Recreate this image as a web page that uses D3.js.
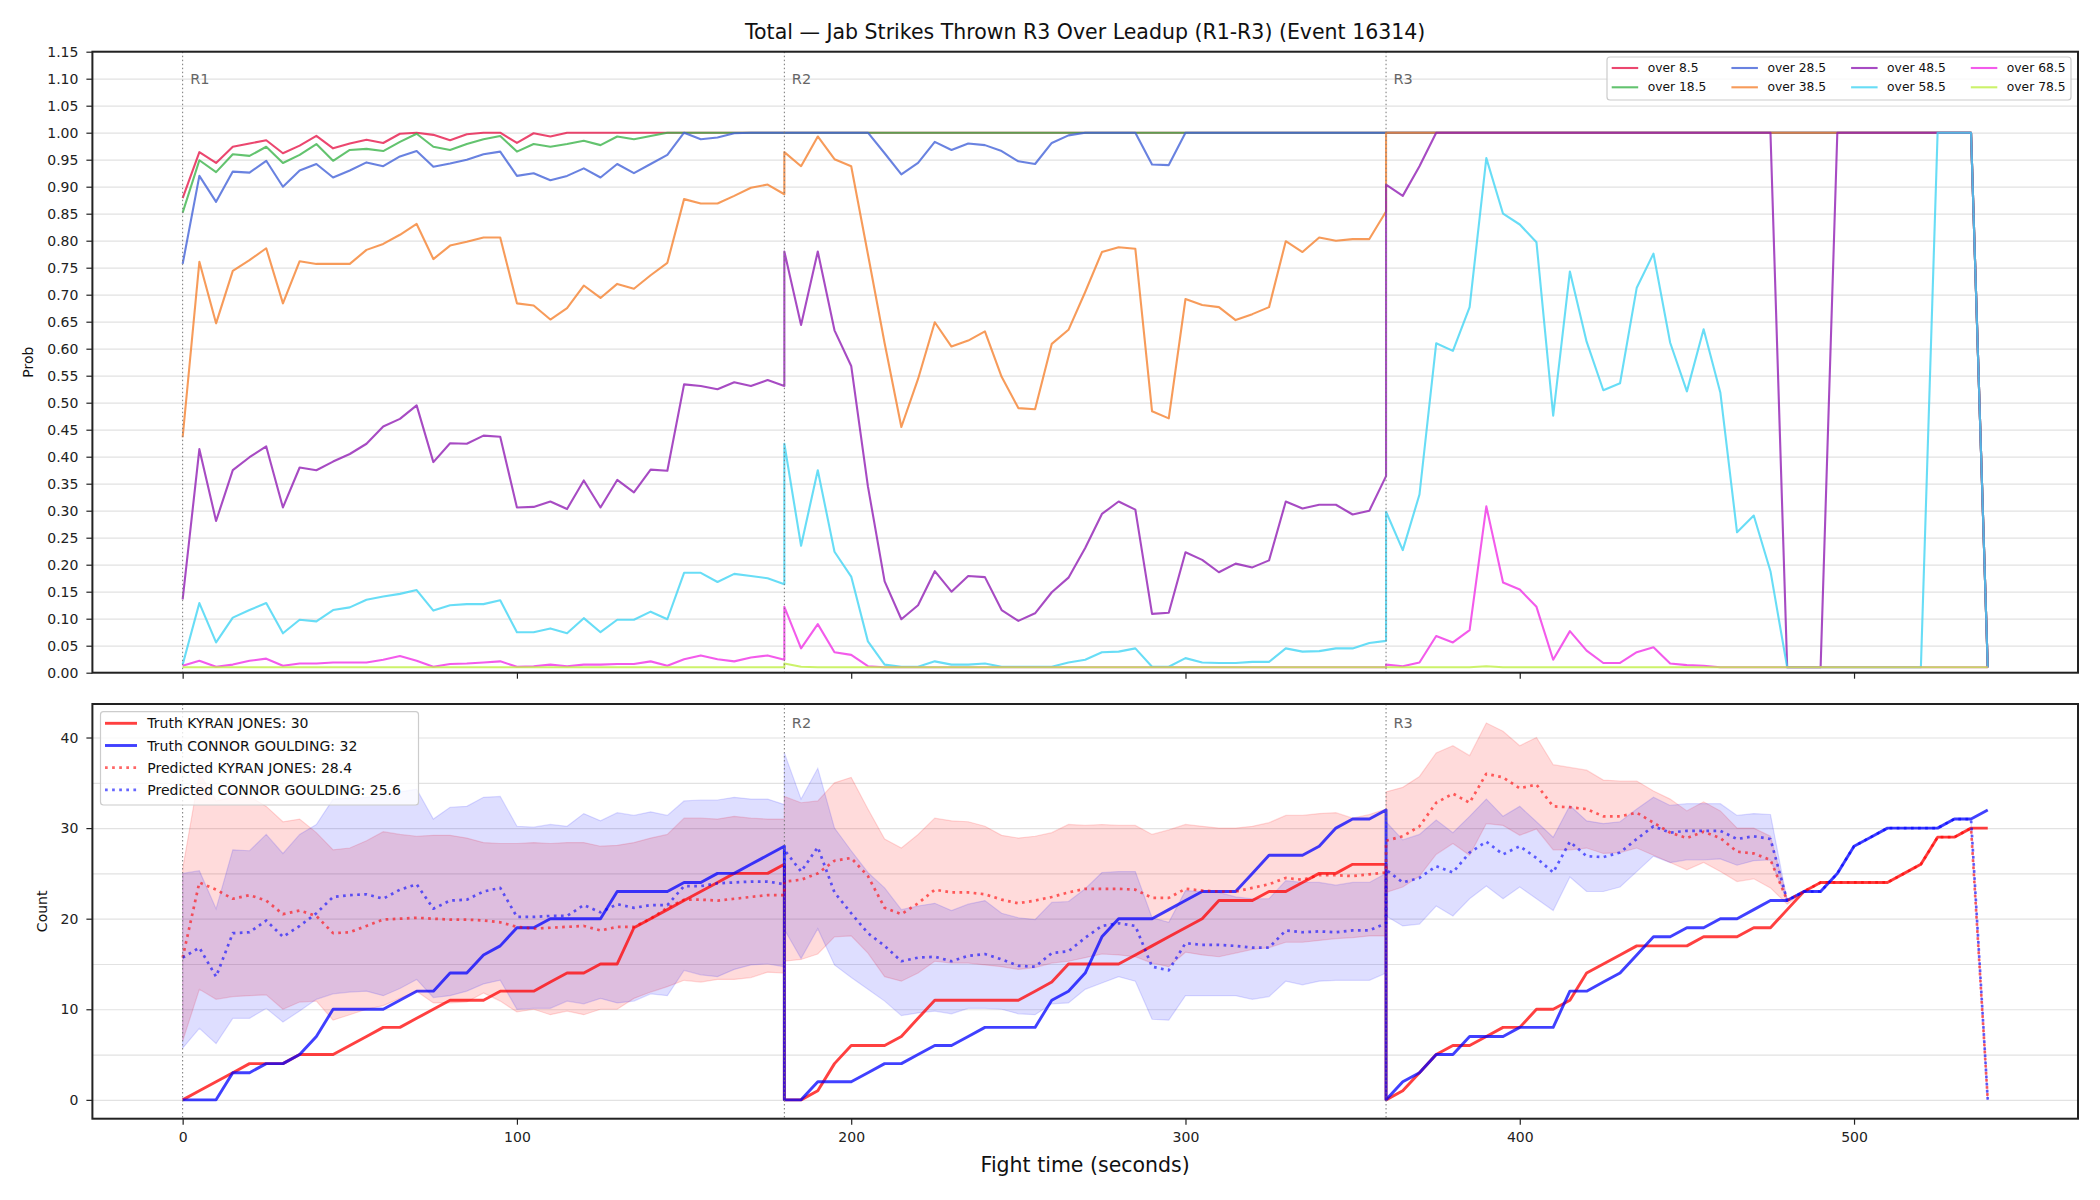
<!DOCTYPE html>
<html>
<head>
<meta charset="utf-8">
<script src="https://cdn.jsdelivr.net/npm/d3@7"></script>
<style>
  body { margin: 0; background: #fff; }
  svg { display: block; font-family: "DejaVu Sans", sans-serif; }
</style>
</head>
<body>
<svg id="chart"></svg>
<script>
// ---- time grid: each round is sampled every 5 s, rounds restart at 180 s ----
const roundNames = ["R1", "R2", "R3"];
const roundStarts = [0, 180, 360];
const stepOffsets = [0, 5, 10, 15, 20, 25, 30, 35, 40, 45, 50, 55, 60, 65, 70, 75, 80, 85, 90,
  95, 100, 105, 110, 115, 120, 125, 130, 135, 140, 145, 150, 155, 160, 165, 170, 175, 180];

// ---- top panel: P(total > line), one value per sample (R1 | R2 | R3) ----
const over8_5 = [
  0.879, 0.964, 0.944, 0.974, 0.980, 0.986, 0.962, 0.976, 0.994, 0.971, 0.980, 0.987, 0.981, 0.998, 1.0, 0.996, 0.986, 0.997, 1.0, 1.0, 0.981, 0.999, 0.993, 1.0, 1.0, 1.0, 1.0, 1.0, 1.0, 1.0, 1.0, 1.0, 1.0, 1.0, 1.0, 1.0, 1.0,
  1.0, 1.0, 1.0, 1.0, 1.0, 1.0, 1.0, 1.0, 1.0, 1.0, 1.0, 1.0, 1.0, 1.0, 1.0, 1.0, 1.0, 1.0, 1.0, 1.0, 1.0, 1.0, 1.0, 1.0, 1.0, 1.0, 1.0, 1.0, 1.0, 1.0, 1.0, 1.0, 1.0, 1.0, 1.0, 1.0, 1.0,
  1.0, 1.0, 1.0, 1.0, 1.0, 1.0, 1.0, 1.0, 1.0, 1.0, 1.0, 1.0, 1.0, 1.0, 1.0, 1.0, 1.0, 1.0, 1.0, 1.0, 1.0, 1.0, 1.0, 1.0, 1.0, 1.0, 1.0, 1.0, 1.0, 1.0, 1.0, 1.0, 1.0, 1.0, 1.0, 1.0, 0.01
];
const over18_5 = [
  0.852, 0.949, 0.927, 0.960, 0.957, 0.974, 0.944, 0.959, 0.979, 0.948, 0.968, 0.970, 0.966, 0.983, 0.998, 0.974, 0.968, 0.979, 0.988, 0.994, 0.965, 0.979, 0.974, 0.979, 0.985, 0.977, 0.993, 0.988, 0.994, 1.0, 1.0, 1.0, 1.0, 1.0, 1.0, 1.0, 1.0,
  1.0, 1.0, 1.0, 1.0, 1.0, 1.0, 1.0, 1.0, 1.0, 1.0, 1.0, 1.0, 1.0, 1.0, 1.0, 1.0, 1.0, 1.0, 1.0, 1.0, 1.0, 1.0, 1.0, 1.0, 1.0, 1.0, 1.0, 1.0, 1.0, 1.0, 1.0, 1.0, 1.0, 1.0, 1.0, 1.0, 1.0,
  1.0, 1.0, 1.0, 1.0, 1.0, 1.0, 1.0, 1.0, 1.0, 1.0, 1.0, 1.0, 1.0, 1.0, 1.0, 1.0, 1.0, 1.0, 1.0, 1.0, 1.0, 1.0, 1.0, 1.0, 1.0, 1.0, 1.0, 1.0, 1.0, 1.0, 1.0, 1.0, 1.0, 1.0, 1.0, 1.0, 0.01
];
const over28_5 = [
  0.757, 0.920, 0.872, 0.928, 0.926, 0.948, 0.900, 0.930, 0.942, 0.917, 0.930, 0.945, 0.938, 0.956, 0.966, 0.937, 0.943, 0.950, 0.960, 0.965, 0.920, 0.925, 0.912, 0.920, 0.934, 0.917, 0.942, 0.925, 0.942, 0.959, 1.0, 0.988, 0.991, 0.999, 1.0, 1.0, 1.0,
  1.0, 1.0, 1.0, 1.0, 1.0, 1.0, 0.962, 0.923, 0.944, 0.983, 0.968, 0.980, 0.977, 0.966, 0.947, 0.942, 0.981, 0.995, 1.0, 1.0, 1.0, 1.0, 0.941, 0.940, 1.0, 1.0, 1.0, 1.0, 1.0, 1.0, 1.0, 1.0, 1.0, 1.0, 1.0, 1.0, 1.0,
  1.0, 1.0, 1.0, 1.0, 1.0, 1.0, 1.0, 1.0, 1.0, 1.0, 1.0, 1.0, 1.0, 1.0, 1.0, 1.0, 1.0, 1.0, 1.0, 1.0, 1.0, 1.0, 1.0, 1.0, 1.0, 1.0, 1.0, 1.0, 1.0, 1.0, 1.0, 1.0, 1.0, 1.0, 1.0, 1.0, 0.01
];
const over38_5 = [
  0.436, 0.761, 0.647, 0.744, 0.764, 0.786, 0.684, 0.762, 0.757, 0.757, 0.757, 0.783, 0.794, 0.811, 0.831, 0.766, 0.791, 0.798, 0.806, 0.806, 0.684, 0.680, 0.654, 0.675, 0.717, 0.694, 0.720, 0.711, 0.736, 0.759, 0.877, 0.869, 0.869, 0.883, 0.898, 0.904, 0.886,
  0.964, 0.938, 0.993, 0.951, 0.938, 0.775, 0.610, 0.455, 0.544, 0.649, 0.604, 0.615, 0.632, 0.548, 0.490, 0.488, 0.609, 0.635, 0.705, 0.779, 0.788, 0.785, 0.484, 0.471, 0.692, 0.681, 0.677, 0.653, 0.664, 0.677, 0.799, 0.779, 0.806, 0.800, 0.803, 0.803, 0.854,
  1.0, 1.0, 1.0, 1.0, 1.0, 1.0, 1.0, 1.0, 1.0, 1.0, 1.0, 1.0, 1.0, 1.0, 1.0, 1.0, 1.0, 1.0, 1.0, 1.0, 1.0, 1.0, 1.0, 1.0, 1.0, 1.0, 1.0, 1.0, 1.0, 1.0, 1.0, 1.0, 1.0, 1.0, 1.0, 1.0, 0.01
];
const over48_5 = [
  0.136, 0.414, 0.281, 0.375, 0.399, 0.419, 0.306, 0.380, 0.375, 0.391, 0.405, 0.424, 0.456, 0.470, 0.495, 0.390, 0.425, 0.424, 0.439, 0.437, 0.306, 0.307, 0.317, 0.303, 0.356, 0.306, 0.357, 0.334, 0.376, 0.374, 0.534, 0.531, 0.525, 0.538, 0.531, 0.542, 0.531,
  0.780, 0.644, 0.780, 0.634, 0.568, 0.345, 0.169, 0.099, 0.125, 0.188, 0.150, 0.179, 0.177, 0.116, 0.096, 0.110, 0.149, 0.176, 0.231, 0.294, 0.317, 0.302, 0.109, 0.111, 0.223, 0.209, 0.186, 0.202, 0.195, 0.208, 0.317, 0.304, 0.311, 0.311, 0.293, 0.300, 0.364,
  0.904, 0.883, 0.938, 1.0, 1.0, 1.0, 1.0, 1.0, 1.0, 1.0, 1.0, 1.0, 1.0, 1.0, 1.0, 1.0, 1.0, 1.0, 1.0, 1.0, 1.0, 1.0, 1.0, 1.0, 0.01, 0.01, 0.01, 1.0, 1.0, 1.0, 1.0, 1.0, 1.0, 1.0, 1.0, 1.0, 0.01
];
const over58_5 = [
  0.015, 0.129, 0.056, 0.102, 0.116, 0.129, 0.073, 0.098, 0.095, 0.116, 0.121, 0.135, 0.141, 0.146, 0.153, 0.115, 0.125, 0.127, 0.127, 0.134, 0.075, 0.075, 0.082, 0.073, 0.101, 0.075, 0.098, 0.098, 0.113, 0.099, 0.185, 0.185, 0.168, 0.183, 0.179, 0.175, 0.164,
  0.424, 0.235, 0.375, 0.224, 0.178, 0.058, 0.015, 0.011, 0.011, 0.021, 0.015, 0.015, 0.017, 0.011, 0.011, 0.011, 0.011, 0.019, 0.024, 0.038, 0.039, 0.045, 0.011, 0.011, 0.027, 0.019, 0.018, 0.018, 0.020, 0.020, 0.045, 0.039, 0.040, 0.045, 0.045, 0.055, 0.059,
  0.298, 0.227, 0.330, 0.610, 0.596, 0.677, 0.953, 0.850, 0.830, 0.797, 0.476, 0.743, 0.613, 0.523, 0.536, 0.713, 0.776, 0.611, 0.521, 0.636, 0.519, 0.260, 0.291, 0.188, 0.01, 0.01, 0.01, 0.01, 0.01, 0.01, 0.01, 0.01, 0.01, 1.0, 1.0, 1.0, 0.01
];
const over68_5 = [
  0.013, 0.022, 0.011, 0.015, 0.022, 0.026, 0.013, 0.017, 0.017, 0.019, 0.019, 0.019, 0.024, 0.031, 0.022, 0.011, 0.016, 0.017, 0.019, 0.021, 0.011, 0.012, 0.015, 0.012, 0.015, 0.015, 0.016, 0.016, 0.021, 0.013, 0.025, 0.032, 0.025, 0.021, 0.028, 0.032, 0.024,
  0.122, 0.045, 0.090, 0.038, 0.033, 0.012, 0.01, 0.01, 0.01, 0.01, 0.01, 0.01, 0.01, 0.01, 0.01, 0.01, 0.01, 0.01, 0.01, 0.01, 0.01, 0.01, 0.01, 0.01, 0.01, 0.01, 0.01, 0.01, 0.01, 0.01, 0.01, 0.01, 0.01, 0.01, 0.01, 0.01, 0.01,
  0.015, 0.012, 0.019, 0.068, 0.056, 0.079, 0.308, 0.167, 0.154, 0.122, 0.024, 0.077, 0.041, 0.018, 0.018, 0.038, 0.047, 0.017, 0.014, 0.013, 0.01, 0.01, 0.01, 0.01, 0.01, 0.01, 0.01, 0.01, 0.01, 0.01, 0.01, 0.01, 0.01, 0.01, 0.01, 0.01, 0.01
];
const over78_5 = [
  0.01, 0.01, 0.01, 0.01, 0.01, 0.01, 0.01, 0.01, 0.01, 0.01, 0.01, 0.01, 0.01, 0.01, 0.01, 0.01, 0.01, 0.01, 0.01, 0.01, 0.01, 0.01, 0.01, 0.01, 0.01, 0.01, 0.01, 0.01, 0.01, 0.01, 0.01, 0.01, 0.01, 0.01, 0.01, 0.01, 0.01,
  0.017, 0.011, 0.01, 0.01, 0.01, 0.01, 0.01, 0.01, 0.01, 0.01, 0.01, 0.01, 0.01, 0.01, 0.01, 0.01, 0.01, 0.01, 0.01, 0.01, 0.01, 0.01, 0.01, 0.01, 0.01, 0.01, 0.01, 0.01, 0.01, 0.01, 0.01, 0.01, 0.01, 0.01, 0.01, 0.01, 0.01,
  0.01, 0.01, 0.01, 0.01, 0.01, 0.01, 0.012, 0.01, 0.01, 0.01, 0.01, 0.01, 0.01, 0.01, 0.01, 0.01, 0.01, 0.01, 0.01, 0.01, 0.01, 0.01, 0.01, 0.01, 0.01, 0.01, 0.01, 0.01, 0.01, 0.01, 0.01, 0.01, 0.01, 0.01, 0.01, 0.01, 0.01
];
const lineNames = ["over 8.5", "over 18.5", "over 28.5", "over 38.5", "over 48.5", "over 58.5", "over 68.5", "over 78.5"];
const lineColors = ["#e6194b", "#3cb44b", "#4363d8", "#f58231", "#911eb4", "#42d4f4", "#f032e6", "#bfef45"];

// ---- bottom panel: per-round jab counts ----
const truthJones = [
  0, 1, 2, 3, 4, 4, 4, 5, 5, 5, 6, 7, 8, 8, 9, 10, 11, 11, 11, 12, 12, 12, 13, 14, 14, 15, 15, 19, 20, 21, 22, 23, 24, 25, 25, 25, 26,
  0, 0, 1, 4, 6, 6, 6, 7, 9, 11, 11, 11, 11, 11, 11, 12, 13, 15, 15, 15, 15, 16, 17, 18, 19, 20, 22, 22, 22, 23, 23, 24, 25, 25, 26, 26, 26,
  0, 1, 3, 5, 6, 6, 7, 8, 8, 10, 10, 11, 14, 15, 16, 17, 17, 17, 17, 18, 18, 18, 19, 19, 21, 23, 24, 24, 24, 24, 24, 25, 26, 29, 29, 30, 30
];
const truthGoulding = [
  0, 0, 0, 3, 3, 4, 4, 5, 7, 10, 10, 10, 10, 11, 12, 12, 14, 14, 16, 17, 19, 19, 20, 20, 20, 20, 23, 23, 23, 23, 24, 24, 25, 25, 26, 27, 28,
  0, 0, 2, 2, 2, 3, 4, 4, 5, 6, 6, 7, 8, 8, 8, 8, 11, 12, 14, 18, 20, 20, 20, 21, 22, 23, 23, 23, 25, 27, 27, 27, 28, 30, 31, 31, 32,
  0, 2, 3, 5, 5, 7, 7, 7, 8, 8, 8, 12, 12, 13, 14, 16, 18, 18, 19, 19, 20, 20, 21, 22, 22, 23, 23, 25, 28, 29, 30, 30, 30, 30, 31, 31, 32
];
const predJones = [
  15.7, 24.0, 23.2, 22.2, 22.6, 22.0, 20.5, 20.9, 20.3, 18.4, 18.5, 19.2, 19.9, 20.0, 20.1, 20.0, 19.9, 19.9, 19.8, 19.6, 19.1, 18.9, 19.0, 19.1, 19.2, 18.7, 19.1, 19.1, 20.0, 21.2, 22.1, 22.1, 22.0, 22.2, 22.4, 22.6, 22.6,
  24.1, 24.3, 25.0, 26.4, 26.7, 24.7, 21.2, 20.5, 21.7, 23.2, 22.9, 22.9, 22.7, 22.1, 21.7, 22.0, 22.4, 22.9, 23.3, 23.3, 23.3, 23.2, 22.3, 22.3, 23.3, 23.1, 23.0, 23.0, 23.4, 23.8, 24.5, 24.3, 24.8, 24.8, 24.7, 24.9, 25.1,
  28.6, 29.1, 30.2, 32.8, 33.8, 32.8, 36.0, 35.6, 34.4, 34.8, 32.4, 32.3, 32.1, 31.3, 31.3, 31.7, 30.6, 29.5, 28.9, 29.6, 28.9, 27.4, 27.2, 26.5, 22.0, 23, 24, 24, 24, 24, 24, 25, 26, 29, 29, 30, 0
];
const predGoulding = [
  15.7, 16.8, 13.6, 18.4, 18.5, 19.8, 18.0, 19.2, 20.6, 22.4, 22.6, 22.7, 22.2, 23.2, 23.8, 21.1, 22.0, 22.1, 23.0, 23.4, 20.2, 20.2, 20.3, 20.3, 21.5, 20.7, 21.6, 21.2, 21.5, 21.5, 23.6, 23.6, 23.9, 24.0, 24.1, 24.1, 23.8,
  27.6, 25.2, 27.9, 22.9, 20.6, 18.4, 17.0, 15.3, 15.7, 15.8, 15.3, 15.9, 16.1, 15.5, 14.8, 14.7, 16.2, 16.4, 17.9, 19.2, 19.5, 19.2, 14.7, 14.3, 17.3, 17.1, 17.1, 17.0, 16.8, 16.8, 18.7, 18.5, 18.6, 18.5, 18.7, 18.7, 19.5,
  25.4, 24.0, 24.5, 25.8, 25.1, 27.3, 28.5, 27.1, 28.0, 26.7, 25.1, 28.5, 26.9, 26.8, 27.3, 28.8, 30.2, 29.5, 29.7, 29.7, 29.7, 28.8, 29.1, 28.8, 22.0, 23, 23, 25, 28, 29, 30, 30, 30, 30, 31, 31, 0
];
const jonesLow = [
  6.5, 12.2, 11.1, 11.4, 11.5, 11.6, 10.0, 10.8, 10.9, 8.8, 9.4, 10.0, 10.4, 11.2, 12.0, 10.7, 10.7, 10.8, 11.8, 10.9, 9.7, 10.0, 9.4, 9.8, 9.4, 10.0, 10.0, 11.2, 11.9, 12.5, 13.2, 13.0, 13.3, 13.3, 13.5, 14.1, 14.0,
  15.3, 15.5, 16.1, 18.0, 18.1, 16.2, 13.6, 13.1, 14.0, 15.3, 15.1, 15.1, 14.9, 14.7, 14.4, 14.6, 15.1, 15.3, 15.7, 16.1, 16.0, 15.8, 15.1, 14.7, 16.3, 16.0, 15.8, 16.2, 16.6, 16.8, 17.4, 17.4, 17.6, 17.8, 17.9, 18.1, 18.1,
  22.9, 23.5, 24.7, 27.1, 28.3, 27.0, 30.5, 30.3, 29.2, 29.9, 27.6, 27.6, 27.8, 27.2, 27.3, 27.8, 27.0, 26.2, 25.4, 26.2, 25.2, 24.1, 24.4, 23.4, 21.6, 23, 24, 24, 24, 24, 24, 25, 26, 29, 29, 30, 0
];
const jonesHigh = [
  25.5, 36.1, 33.0, 33.4, 33.5, 32.4, 30.7, 31.0, 29.5, 27.6, 27.8, 28.6, 29.6, 29.3, 29.1, 29.2, 29.2, 28.9, 28.4, 28.3, 28.3, 28.4, 28.3, 28.4, 28.4, 28.0, 28.1, 28.4, 28.9, 29.3, 31.1, 31.1, 31.0, 31.3, 31.1, 31.0, 31.0,
  33.5, 32.8, 33.0, 35.0, 35.6, 32.1, 28.8, 27.8, 29.3, 31.1, 30.8, 30.7, 30.2, 29.2, 28.9, 29.1, 29.5, 30.4, 30.3, 30.4, 30.3, 30.3, 29.3, 29.8, 30.4, 30.2, 30.0, 30.0, 30.2, 30.6, 31.4, 31.4, 31.6, 31.7, 31.1, 31.5, 32.1,
  34.0, 34.5, 35.7, 38.3, 39.1, 38.0, 41.6, 40.7, 39.1, 40.0, 37.0, 36.7, 36.4, 35.3, 35.2, 35.2, 34.1, 33.2, 31.9, 32.9, 31.9, 30.0, 30.0, 29.1, 22.2, 23, 24, 24, 24, 24, 24, 25, 26, 29, 29, 30, 0
];
const gouldingLow = [
  5.7, 7.9, 6.2, 9.0, 9.0, 10.1, 8.6, 9.8, 11.1, 11.7, 11.9, 12.0, 11.5, 12.3, 13.3, 11.3, 11.5, 12.0, 12.8, 13.2, 10.0, 10.1, 10.1, 10.9, 10.6, 11.2, 10.7, 10.9, 11.7, 11.5, 14.3, 13.8, 13.6, 14.4, 14.9, 15.0, 14.7,
  18.8, 15.6, 18.9, 14.9, 13.5, 12.2, 10.9, 9.3, 9.6, 9.8, 9.5, 10.1, 10.1, 10.0, 9.5, 9.4, 10.6, 10.7, 12.2, 12.9, 13.6, 13.1, 8.9, 8.8, 11.5, 11.5, 11.5, 11.5, 11.1, 11.4, 13.1, 12.7, 13.1, 13.2, 13.2, 13.2, 14.0,
  20.3, 19.2, 19.4, 21.4, 20.3, 22.2, 23.6, 22.2, 23.5, 22.2, 20.9, 24.6, 23.0, 23.0, 23.5, 25.2, 26.9, 26.2, 26.5, 26.5, 26.6, 25.9, 26.4, 26.5, 22.0, 23, 23, 25, 28, 29, 30, 30, 30, 30, 31, 31, 0
];
const gouldingHigh = [
  25.0, 25.3, 21.1, 27.6, 27.5, 29.3, 27.2, 29.3, 30.4, 33.2, 33.3, 33.4, 33.6, 34.0, 34.3, 31.0, 32.3, 32.4, 33.4, 33.5, 30.2, 30.1, 30.4, 30.2, 31.6, 30.8, 31.7, 31.4, 31.8, 31.4, 33.0, 33.1, 33.1, 33.4, 33.2, 33.2, 32.6,
  38.3, 33.2, 36.6, 30.0, 27.5, 25.1, 23.4, 21.0, 21.4, 21.7, 20.9, 21.6, 22.0, 20.6, 20.1, 19.9, 21.8, 21.9, 23.3, 25.1, 25.2, 25.2, 20.1, 19.6, 23.1, 23.0, 22.9, 22.4, 22.2, 22.2, 24.2, 24.0, 24.0, 23.7, 24.0, 24.0, 25.0,
  30.7, 28.7, 29.3, 30.9, 29.5, 31.3, 33.2, 31.3, 32.4, 30.7, 29.0, 32.5, 30.8, 30.5, 30.7, 32.1, 33.4, 32.5, 32.7, 32.7, 32.7, 31.4, 31.6, 31.5, 22.0, 23, 23, 25, 28, 29, 30, 30, 30, 30, 31, 31, 0
];

// ---- ticks and labels ----
const timeTicks = [0, 100, 200, 300, 400, 500];
const probTicks = [0, 0.05, 0.1, 0.15, 0.2, 0.25, 0.3, 0.35, 0.4, 0.45, 0.5, 0.55, 0.6, 0.65, 0.7, 0.75,
  0.8, 0.85, 0.9, 0.95, 1.0, 1.05, 1.1, 1.15];
const countTicks = [0, 10, 20, 30, 40];
const countGrid = [0, 5, 10, 15, 20, 25, 30, 35, 40];
const fighterLegend = ["Truth KYRAN JONES: 30", "Truth CONNOR GOULDING: 32",
  "Predicted KYRAN JONES: 28.4", "Predicted CONNOR GOULDING: 25.6"];

(() => {
  const width = 2100, height = 1200;
  const left = 92.4, right = 2078;
  const top1 = 51.7, bottom1 = 672.7;
  const top2 = 704, bottom2 = 1118.7;

  const svg = d3.select("#chart")
    .attr("width", width)
    .attr("height", height);

  svg.append("rect").attr("width", width).attr("height", height).attr("fill", "#fff");

  const times = roundStarts.flatMap(r => stepOffsets.map(s => r + s));

  const x = d3.scaleLinear().domain([-27, 567]).range([left, right]);
  const yProb = d3.scaleLinear().domain([0, 1.15]).range([bottom1, top1]);
  const yCount = d3.scaleLinear().domain([-2.08, 43.7]).range([bottom2, top2]);

  const jonesRed = "255,0,0", gouldingBlue = "0,0,255";

  // ---------- top panel ----------
  const g1 = svg.append("g");

  g1.append("g")
    .attr("transform", `translate(${left},0)`)
    .call(d3.axisLeft(yProb).tickValues(probTicks).tickSize(-(right - left)).tickFormat(""))
    .call(a => a.select(".domain").remove())
    .call(a => a.selectAll("line").attr("stroke", "#e2e2e2").attr("stroke-width", 1.2));

  const probLine = d3.line()
    .x((d, i) => x(times[i]))
    .y(d => yProb(d));

  const probData = [over8_5, over18_5, over28_5, over38_5, over48_5, over58_5, over68_5, over78_5];

  g1.selectAll("path.prob")
    .data(probData)
    .join("path")
    .attr("class", "prob")
    .attr("d", probLine)
    .attr("fill", "none")
    .attr("stroke", (d, i) => lineColors[i])
    .attr("stroke-opacity", 0.8)
    .attr("stroke-width", 2.1)
    .attr("stroke-linejoin", "round");

  // ---------- bottom panel ----------
  const g2 = svg.append("g");

  g2.append("g")
    .attr("transform", `translate(${left},0)`)
    .call(d3.axisLeft(yCount).tickValues(countGrid).tickSize(-(right - left)).tickFormat(""))
    .call(a => a.select(".domain").remove())
    .call(a => a.selectAll("line").attr("stroke", "#e2e2e2").attr("stroke-width", 1.2));

  const band = (lo, hi) => d3.area()
    .x((d, i) => x(times[i]))
    .y0((d, i) => yCount(lo[i]))
    .y1((d, i) => yCount(hi[i]));

  g2.append("path")
    .attr("d", band(jonesLow, jonesHigh)(jonesLow))
    .attr("fill", `rgba(${jonesRed},0.14)`)
    .attr("stroke", `rgba(${jonesRed},0.14)`)
    .attr("stroke-width", 1.2);

  g2.append("path")
    .attr("d", band(gouldingLow, gouldingHigh)(gouldingLow))
    .attr("fill", `rgba(${gouldingBlue},0.13)`)
    .attr("stroke", `rgba(${gouldingBlue},0.13)`)
    .attr("stroke-width", 1.2);

  const countLine = d3.line()
    .x((d, i) => x(times[i]))
    .y(d => yCount(d));

  const fighterLines = [
    { values: truthJones, color: `rgba(${jonesRed},0.75)`, dash: null, w: 2.9 },
    { values: truthGoulding, color: `rgba(${gouldingBlue},0.75)`, dash: null, w: 2.9 },
    { values: predJones, color: `rgba(${jonesRed},0.6)`, dash: "2.7,4.4", w: 2.7 },
    { values: predGoulding, color: `rgba(${gouldingBlue},0.6)`, dash: "2.7,4.4", w: 2.7 }
  ];

  g2.selectAll("path.count")
    .data(fighterLines)
    .join("path")
    .attr("class", "count")
    .attr("d", d => countLine(d.values))
    .attr("fill", "none")
    .attr("stroke", d => d.color)
    .attr("stroke-width", d => d.w)
    .attr("stroke-dasharray", d => d.dash)
    .attr("stroke-linejoin", "round");

  // ---------- round markers (R1 label of the lower panel sits under its legend) ----------
  [[g1, yProb, top1, bottom1, 1.10, [0, 1, 2]], [g2, yCount, top2, bottom2, 41.6, [1, 2]]]
    .forEach(([g, y, t, b, labelAt, shown]) => {
      g.selectAll("line.round")
        .data(roundStarts)
        .join("line")
        .attr("class", "round")
        .attr("x1", d => x(d)).attr("x2", d => x(d))
        .attr("y1", t).attr("y2", b)
        .attr("stroke", "#777")
        .attr("stroke-width", 1)
        .attr("stroke-dasharray", "1.5,2.5");

      g.selectAll("text.round")
        .data(shown)
        .join("text")
        .attr("class", "round")
        .attr("x", i => x(roundStarts[i]) + 7.5)
        .attr("y", y(labelAt))
        .attr("dominant-baseline", "central")
        .attr("font-size", 14.5)
        .attr("fill", "#666")
        .text(i => roundNames[i]);
    });

  // ---------- axes ----------
  const styleAxis = a => {
    a.select(".domain").remove();
    a.selectAll(".tick line").attr("stroke", "#222").attr("stroke-width", 1.2);
    a.selectAll(".tick text").attr("font-size", 14).attr("fill", "#222").attr("font-family", "DejaVu Sans");
  };

  g1.append("g")
    .attr("transform", `translate(${left},0)`)
    .call(d3.axisLeft(yProb).tickValues(probTicks).tickSize(6).tickPadding(8).tickFormat(d3.format(".2f")))
    .call(styleAxis);

  g1.append("g")
    .attr("transform", `translate(0,${bottom1})`)
    .call(d3.axisBottom(x).tickValues(timeTicks).tickSize(6).tickFormat(""))
    .call(styleAxis);

  g2.append("g")
    .attr("transform", `translate(${left},0)`)
    .call(d3.axisLeft(yCount).tickValues(countTicks).tickSize(6).tickPadding(8))
    .call(styleAxis);

  g2.append("g")
    .attr("transform", `translate(0,${bottom2})`)
    .call(d3.axisBottom(x).tickValues(timeTicks).tickSize(6).tickPadding(7))
    .call(styleAxis);

  [[top1, bottom1], [top2, bottom2]].forEach(([t, b]) => {
    svg.append("rect")
      .attr("x", left).attr("y", t)
      .attr("width", right - left).attr("height", b - t)
      .attr("fill", "none")
      .attr("stroke", "#222")
      .attr("stroke-width", 2);
  });

  // ---------- titles ----------
  svg.append("text")
    .attr("x", (left + right) / 2)
    .attr("y", 39)
    .attr("text-anchor", "middle")
    .attr("font-size", 20.5)
    .attr("fill", "#111")
    .text("Total \u2014 Jab Strikes Thrown R3 Over Leadup (R1-R3) (Event 16314)");

  svg.append("text")
    .attr("x", (left + right) / 2)
    .attr("y", 1172)
    .attr("text-anchor", "middle")
    .attr("font-size", 20.5)
    .attr("fill", "#111")
    .text("Fight time (seconds)");

  svg.append("text")
    .attr("transform", `translate(28,${(top1 + bottom1) / 2}) rotate(-90)`)
    .attr("text-anchor", "middle")
    .attr("dominant-baseline", "central")
    .attr("font-size", 14)
    .attr("fill", "#111")
    .text("Prob");

  svg.append("text")
    .attr("transform", `translate(41.5,${(top2 + bottom2) / 2}) rotate(-90)`)
    .attr("text-anchor", "middle")
    .attr("dominant-baseline", "central")
    .attr("font-size", 14)
    .attr("fill", "#111")
    .text("Count");

  // ---------- legends ----------
  const legend1 = svg.append("g");
  legend1.append("rect")
    .attr("x", 1607).attr("y", 57).attr("width", 464).attr("height", 43).attr("rx", 3)
    .attr("fill", "#fff").attr("fill-opacity", 0.8)
    .attr("stroke", "#ccc").attr("stroke-width", 1.2);

  const items1 = legend1.selectAll("g.item")
    .data(lineNames)
    .join("g")
    .attr("class", "item")
    .attr("transform", (d, i) => `translate(${1611.7 + Math.floor(i / 2) * 119.7},${i % 2 === 0 ? 68 : 87.3})`);

  items1.append("line")
    .attr("x1", 0).attr("x2", 26.5)
    .attr("stroke", (d, i) => lineColors[i])
    .attr("stroke-opacity", 0.8)
    .attr("stroke-width", 2.1);

  items1.append("text")
    .attr("x", 36)
    .attr("dominant-baseline", "central")
    .attr("font-size", 12.3)
    .attr("fill", "#111")
    .text(d => d);

  const legend2 = svg.append("g");
  legend2.append("rect")
    .attr("x", 100.5).attr("y", 711.7).attr("width", 318).attr("height", 93.3).attr("rx", 3)
    .attr("fill", "#fff").attr("fill-opacity", 0.8)
    .attr("stroke", "#ccc").attr("stroke-width", 1.2);

  const items2 = legend2.selectAll("g.item")
    .data(fighterLines)
    .join("g")
    .attr("class", "item")
    .attr("transform", (d, i) => `translate(105,${723.3 + i * 22.2})`);

  items2.append("line")
    .attr("x1", 0).attr("x2", 32)
    .attr("stroke", d => d.color)
    .attr("stroke-width", d => d.w)
    .attr("stroke-dasharray", d => d.dash);

  items2.append("text")
    .attr("x", 42.3)
    .attr("dominant-baseline", "central")
    .attr("font-size", 14)
    .attr("fill", "#111")
    .text((d, i) => fighterLegend[i]);
})();
</script>
</body>
</html>
